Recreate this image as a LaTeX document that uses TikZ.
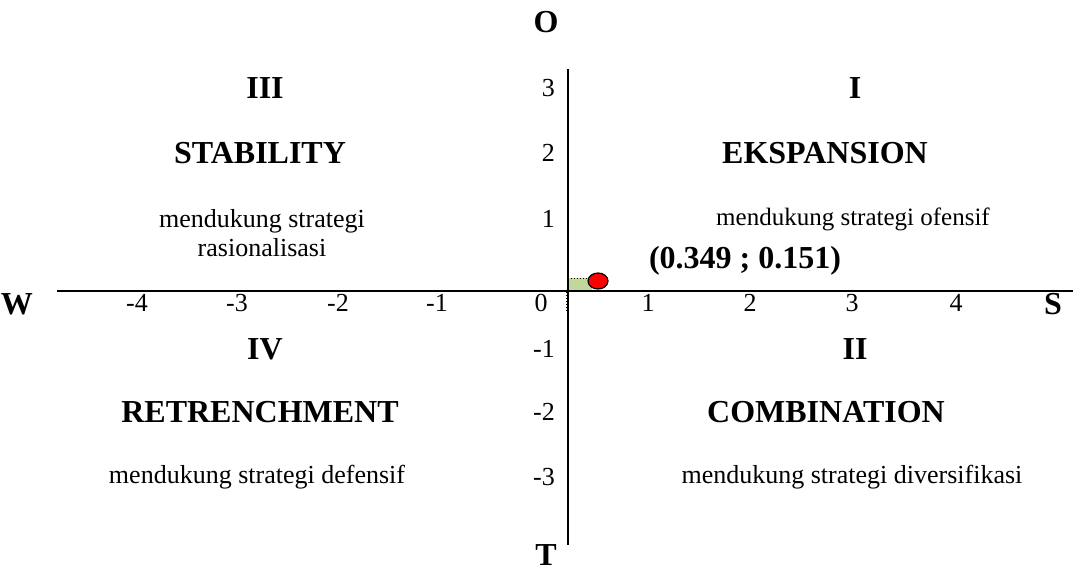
\documentclass[tikz,border=0pt]{standalone}
\usepackage{fontspec}
\setmainfont{Liberation Serif}
\usetikzlibrary{shapes.geometric}
\definecolor{areagreen}{RGB}{195,214,155}
\begin{document}
\begin{tikzpicture}[x=1pt,y=-1pt,
  axis/.style={line width=2.6pt},
  lbl/.style={font=\fontsize{26}{29}\selectfont, inner sep=0pt, anchor=center},
  blbl/.style={font=\fontsize{32}{36}\selectfont\bfseries, inner sep=0pt, anchor=center},
  txt/.style={font=\fontsize{26}{29}\selectfont, inner sep=0pt, align=center, anchor=center}]
\useasboundingbox (0,0) rectangle (1073,575);
% axes
\coordinate (xl) at (57,291);
\coordinate (xr) at (1073,291);
\coordinate (yt) at (568,69);
\coordinate (yb) at (568,545);
% highlighted area
\fill[areagreen] (568,278) rectangle (592,291);
\draw[dotted, line width=1pt] (568,278) -- (592,278);
\coordinate (dt) at (566,292);
\coordinate (db) at (566,312);
\draw[dotted, line width=1pt] (dt) -- (db);
\draw[axis] (xl) -- (xr);
\draw[axis] (yt) -- (yb);
\node[draw=black, line width=1.2pt, fill=red, ellipse, minimum width=20pt, minimum height=16pt, inner sep=0pt] (pt) at (598,281) {};
% axis end labels
\node[blbl] (O) at (546,22) {O};
\node[blbl] (T) at (546,555) {T};
\node[blbl] (W) at (17,304) {W};
\node[blbl] (S) at (1053,304) {S};
% x ticks
\foreach \v/\x in {-4/137,-3/237,-2/338,-1/437,0/541,1/648,2/750,3/852,4/956}
  \node[lbl] at (\x,303) {\v};
% y ticks
\foreach \v/\y in {3/88,2/153,1/219,-1/349,-2/412,-3/477}
  \node[lbl, anchor=east] at (555,\y) {\v};
% quadrant texts
\node[blbl] (q3) at (265,88) {III};
\node[blbl] (q3n) at (260,153) {STABILITY};
\node[txt] (q3t) at (262,233) {mendukung strategi\\rasionalisasi};
\node[blbl] (q1) at (855,88) {I};
\node[blbl] (q1n) at (825,153) {EKSPANSION};
\node[txt, font=\fontsize{25}{29}\selectfont] (q1t) at (853,219) {mendukung strategi ofensif};
\node[blbl] (coord) at (745,261) {(0.349 ; 0.151)};
\node[blbl] (q4) at (265,349) {IV};
\node[blbl] (q4n) at (260,412) {RETRENCHMENT};
\node[txt] (q4t) at (257,477) {mendukung strategi defensif};
\node[blbl] (q2) at (855,349) {II};
\node[blbl] (q2n) at (826,412) {COMBINATION};
\node[txt] (q2t) at (852,477) {mendukung strategi diversifikasi};
\end{tikzpicture}
\end{document}
